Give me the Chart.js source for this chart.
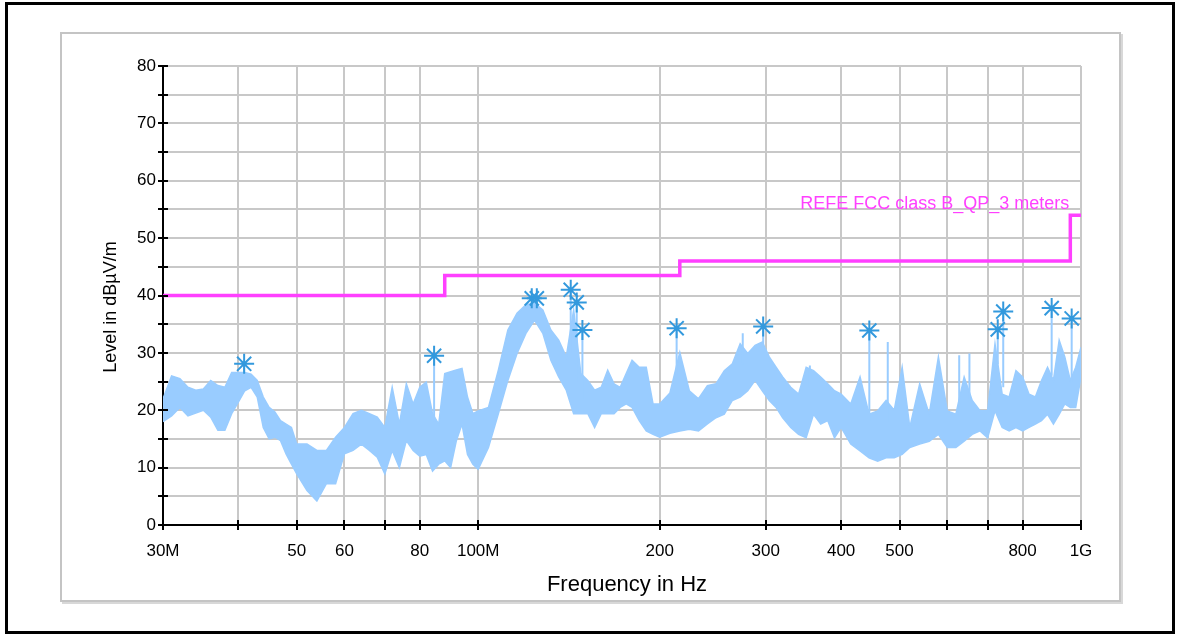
<!DOCTYPE html>
<html>
<head>
<meta charset="utf-8">
<script src="https://cdn.jsdelivr.net/npm/chart.js@4.4.1/dist/chart.umd.min.js"></script>
<style>
  html, body { margin: 0; padding: 0; background: #fff; }
  #outer { position: absolute; left: 5px; top: 2px; width: 1164px; height: 626px; border: 3px solid #000; }
  #frame { position: absolute; left: 60px; top: 32px; width: 1057px; height: 566px; border: 2px solid #c4c4c4; box-shadow: 2px 2px 0 #d8d8d8; }
  #wrap { position: absolute; left: 0; top: 0; width: 1178px; height: 635px; }
</style>
</head>
<body>
<div id="outer"></div>
<div id="frame"></div>
<div id="wrap"><canvas id="grafico"></canvas></div>
<script>
// ejes
const xTickValues = [30, 40, 50, 60, 70, 80, 100, 200, 300, 400, 500, 600, 700, 800, 1000];
const xTickLabels = ['30M', '', '50', '60', '', '80', '100M', '200', '300', '400', '500', '', '', '800', '1G'];
const xTitle = 'Frequency in Hz';
const yTitle = 'Level in dBµV/m';

// traza medida (MHz, dBuV/m), borde superior e inferior de la banda
const traceFreq = [30, 31, 32, 33, 34, 35, 36, 37, 38, 39, 40, 41, 42, 43, 44, 45, 46, 47, 48, 49,
  50, 52, 54, 56, 58, 60, 62, 64, 66, 68, 70, 72, 74, 76, 78, 80, 82, 84, 86, 88, 90, 92, 94, 96, 98,
  100, 104, 108, 112, 116, 120, 124, 128, 132, 136, 140, 144, 148, 152, 156, 160, 164, 168, 172, 176, 180, 185, 190, 195,
  200, 208, 216, 224, 232, 240, 248, 256, 264, 272, 280, 288, 296, 304, 312, 320, 330, 340, 350, 360, 370, 380, 390,
  400, 415, 430, 445, 460, 475, 490, 505, 520, 540, 560, 580, 600, 620, 640, 660, 680, 700, 720, 740, 760, 780,
  800, 820, 840, 860, 880, 900, 920, 940, 960, 980, 1000];
const traceTop = [22, 26, 25.5, 24, 23.5, 23.7, 25.2, 24.3, 24, 26.6, 26.6, 26.6, 26.3, 25.2, 22.3, 20.5, 19.7, 18.2, 17.6, 17,
  14.1, 14.1, 13, 13, 15.3, 17, 19.4, 20, 19.4, 18.8, 17, 24, 17.6, 24.6, 21.1, 24, 24.9, 19.4, 17.6, 26.4, 26.7, 27, 27.3, 22.3, 19.4,
  19.9, 20.5, 27, 34, 36.9, 38.4, 38.7, 37.5, 34, 32.2, 29.3, 37.5, 26.4, 25.2, 23.5, 24, 27, 24.6, 24, 26.4, 28.7, 27.5, 27.5, 21.1,
  21.1, 23, 30.1, 23.4, 22, 24.3, 24.6, 26.9, 28.1, 31.6, 29.9, 31.3, 31.9, 29.3, 27.5, 25.8, 24, 22.8, 27.5, 26.9, 25.8, 24.6, 23.4,
  22.8, 21.1, 25.8, 19.3, 19.9, 21.7, 20, 27.5, 17, 24.6, 19.3, 29.3, 19.9, 19.3, 25.8, 21.7, 19.9, 19.9, 31.6, 22.8, 22.3, 26.9,
  25.8, 22.8, 22.3, 25.2, 27.5, 25.2, 32.2, 29.3, 25.2, 27.5, 31];
const traceBottom = [18, 19, 20.5, 19, 19.5, 20, 18.8, 16.5, 16.5, 19.4, 21.4, 23.4, 24, 22.3, 17, 15, 15.3, 14.7, 12.4, 10.6,
  8.9, 6, 4.2, 7.2, 7.2, 12.4, 13, 14.1, 13, 11.8, 8.9, 13, 10, 14.7, 13, 12, 12.3, 9.4, 10.6, 11.2, 10, 14.7, 17.6, 12.3, 10.6,
  9.7, 13.5, 19.4, 25.2, 29.9, 33.4, 35.7, 33.4, 28.7, 25.8, 23.5, 19.4, 19.4, 19.4, 17, 19.4, 19.4, 19.4, 20.5, 21.1, 20.5, 18.2, 16.4, 15.8,
  15.3, 16, 16.4, 16.7, 16.4, 17.6, 18.7, 19.3, 21.7, 22.3, 23.4, 25.2, 23.4, 21.7, 20.5, 18.7, 17, 15.8, 15.2, 19.3, 17.6, 18.2, 15.2,
  17, 14.1, 12.9, 11.7, 11.1, 11.7, 11.7, 12.3, 13.5, 14.1, 14.6, 15.8, 13.5, 13.5, 14.6, 15.8, 16.4, 15.2, 19.9, 17, 16.4, 17,
  16.4, 17, 17.6, 18.2, 19.3, 17.6, 19.3, 21.1, 20.5, 20.5, 25.8];

// picos aislados de la traza
const spikeFreq = [40.9, 84.5, 122.7, 125.1, 142.4, 145.7, 148.9, 213.4, 274.7, 297, 355, 445.5, 478, 628, 653, 727.6, 743, 894, 965];
const spikeBase = [26, 18, 38, 38, 30, 25, 22, 26, 28, 31, 24, 18, 18, 19, 22, 28, 24, 26, 25];
const spikeTop = [28.1, 29.5, 39.5, 39.5, 41, 38.8, 34, 34.3, 33.4, 34.6, 27.8, 33.9, 31.9, 29.6, 29.9, 34.1, 37.2, 37.8, 36];

// marcadores QP
const peakFreq = [40.9, 84.5, 122.7, 125.1, 142.4, 145.7, 148.9, 213.4, 297, 445.5, 727.6, 743, 894, 965];
const peakLevel = [28.1, 29.5, 39.5, 39.5, 41, 38.8, 34, 34.3, 34.6, 33.9, 34.1, 37.2, 37.8, 36];

// limite FCC clase B
const limitFreq = [30, 88, 216, 960, 1000];
const limitLevel = [40, 43.5, 46, 54, 54];
const limitLabel = 'REFE FCC class B_QP_3 meters';

const colorTrace = 'rgb(153,204,255)';
const colorPeak = 'rgb(51,153,221)';
const colorLimit = 'rgb(255,64,255)';

Chart.defaults.font.family = '"Liberation Sans", Arial, sans-serif';
Chart.defaults.color = '#000';

const spikeData = [];
for (let i = 0; i < spikeFreq.length; i++) {
  spikeData.push({ x: spikeFreq[i], y: spikeBase[i] });
  spikeData.push({ x: spikeFreq[i], y: spikeTop[i] });
  spikeData.push({ x: spikeFreq[i], y: null });
}

const extras = {
  id: 'extras',
  afterDraw(chart) {
    const { ctx, chartArea, scales } = chart;
    const x = scales.x, y = scales.y;
    ctx.save();
    // marcas de escala hacia dentro
    ctx.strokeStyle = '#000';
    ctx.lineWidth = 2;
    ctx.beginPath();
    y.ticks.forEach(t => {
      const py = Math.round(y.getPixelForValue(t.value));
      ctx.moveTo(chartArea.left, py);
      ctx.lineTo(chartArea.left + 5, py);
    });
    x.ticks.forEach(t => {
      const px = Math.round(x.getPixelForValue(t.value));
      ctx.moveTo(px, chartArea.bottom);
      ctx.lineTo(px, chartArea.bottom - 5);
    });
    ctx.stroke();
    // titulos
    ctx.fillStyle = '#000';
    ctx.textAlign = 'center';
    ctx.textBaseline = 'middle';
    ctx.font = '22px "Liberation Sans", Arial, sans-serif';
    ctx.fillText(xTitle, 627, 585);
    ctx.save();
    ctx.translate(111, 307);
    ctx.rotate(-Math.PI / 2);
    ctx.font = '18px "Liberation Sans", Arial, sans-serif';
    ctx.fillText(yTitle, 0, 0);
    ctx.restore();
    // etiqueta del limite
    ctx.fillStyle = colorLimit;
    ctx.font = '18px "Liberation Sans", Arial, sans-serif';
    ctx.textAlign = 'right';
    ctx.textBaseline = 'alphabetic';
    ctx.fillText(limitLabel, x.getPixelForValue(limitFreq[3]) - 1, y.getPixelForValue(limitLevel[3]) - 6);
    ctx.restore();
  }
};

const ctx = document.getElementById('grafico');
const chart1 = new Chart(ctx, {
  type: 'line',
  data: {
    datasets: [
      {
        label: 'bottom',
        data: traceFreq.map((f, i) => ({ x: f, y: traceBottom[i] })),
        borderColor: colorTrace,
        borderWidth: 1.5,
        pointRadius: 0,
        fill: false,
        order: 4
      },
      {
        label: 'top',
        data: traceFreq.map((f, i) => ({ x: f, y: traceTop[i] })),
        borderColor: colorTrace,
        backgroundColor: colorTrace,
        borderWidth: 1.5,
        pointRadius: 0,
        fill: '-1',
        order: 3
      },
      {
        label: 'spikes',
        data: spikeData,
        borderColor: colorTrace,
        borderWidth: 2,
        pointRadius: 0,
        spanGaps: false,
        fill: false,
        order: 2
      },
      {
        label: limitLabel,
        data: limitFreq.map((f, i) => ({ x: f, y: limitLevel[i] })),
        borderColor: colorLimit,
        borderWidth: 3.5,
        pointRadius: 0,
        stepped: 'before',
        fill: false,
        order: 1
      },
      {
        label: 'QP',
        type: 'scatter',
        data: peakFreq.map((f, i) => ({ x: f, y: peakLevel[i] })),
        pointStyle: 'star',
        pointRadius: 10,
        borderColor: colorPeak,
        backgroundColor: colorPeak,
        pointBorderWidth: 2,
        borderWidth: 2,
        order: 0
      }
    ]
  },
  options: {
    responsive: true,
    maintainAspectRatio: false,
    animation: false,
    events: [],
    layout: { padding: { left: 100, top: 66, right: 97, bottom: 34 } },
    plugins: { legend: { display: false }, tooltip: { enabled: false } },
    scales: {
      x: {
        type: 'logarithmic',
        min: 30,
        max: 1000,
        afterBuildTicks: (scale) => { scale.ticks = xTickValues.map(v => ({ value: v })); },
        afterFit: (scale) => { scale.height = 76; },
        ticks: {
          autoSkip: false,
          maxRotation: 0,
          padding: 11,
          font: { size: 17 },
          callback: (v) => { const i = xTickValues.indexOf(v); return i >= 0 ? xTickLabels[i] : ''; }
        },
        grid: { color: '#c8c8c8', lineWidth: 2, tickColor: '#000', tickLength: 5, tickWidth: 2 },
        border: { color: '#000', width: 2 }
      },
      y: {
        min: 0,
        max: 80,
        afterFit: (scale) => { scale.width = 63; },
        ticks: {
          stepSize: 5,
          padding: 2,
          font: { size: 17 },
          callback: (v) => (v % 10 === 0 ? String(v) : '')
        },
        grid: { color: '#c8c8c8', lineWidth: 2, tickColor: '#000', tickLength: 5, tickWidth: 2 },
        border: { color: '#000', width: 2 }
      }
    }
  },
  plugins: [extras]
});
</script>
</body>
</html>
